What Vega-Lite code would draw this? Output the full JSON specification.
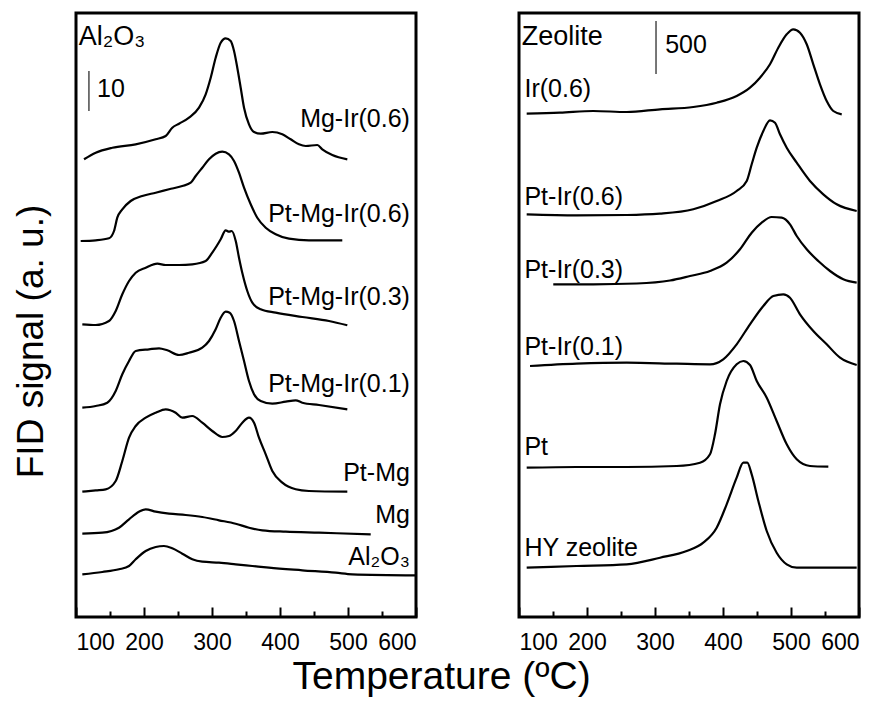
{
  "$schema": "https://vega.github.io/schema/vega-lite/v6.json",
  "background": "white",
  "padding": {"left": 10, "top": 11, "right": 20, "bottom": 8},
  "title": {"text": "Temperature (ºC)", "orient": "bottom", "anchor": "middle", "fontSize": 39, "font": "Liberation Sans", "fontWeight": "normal", "color": "black", "offset": 2, "dx": 5},
  "spacing": 94,
  "datasets": {
    "left": [
      {"s":"Mg-Ir(0.6)","x":111.8,"y":457.7},{"s":"Mg-Ir(0.6)","x":129,"y":464.3},{"s":"Mg-Ir(0.6)","x":153.4,"y":469.3},{"s":"Mg-Ir(0.6)","x":187.8,"y":472.7},{"s":"Mg-Ir(0.6)","x":217.2,"y":477.7},{"s":"Mg-Ir(0.6)","x":231.9,"y":481},{"s":"Mg-Ir(0.6)","x":241.6,"y":489.3},{"s":"Mg-Ir(0.6)","x":251.5,"y":493.3},{"s":"Mg-Ir(0.6)","x":266.2,"y":499.3},{"s":"Mg-Ir(0.6)","x":280.9,"y":509.3},{"s":"Mg-Ir(0.6)","x":290.7,"y":522.7},{"s":"Mg-Ir(0.6)","x":298.1,"y":539.3},{"s":"Mg-Ir(0.6)","x":305.4,"y":559.3},{"s":"Mg-Ir(0.6)","x":312.8,"y":574.3},{"s":"Mg-Ir(0.6)","x":320.1,"y":578.7},{"s":"Mg-Ir(0.6)","x":327.5,"y":576},{"s":"Mg-Ir(0.6)","x":332.4,"y":566},{"s":"Mg-Ir(0.6)","x":337.2,"y":549.3},{"s":"Mg-Ir(0.6)","x":342.2,"y":529.3},{"s":"Mg-Ir(0.6)","x":347.1,"y":509.3},{"s":"Mg-Ir(0.6)","x":354.4,"y":492.7},{"s":"Mg-Ir(0.6)","x":361.8,"y":485},{"s":"Mg-Ir(0.6)","x":371.6,"y":483.3},{"s":"Mg-Ir(0.6)","x":388.7,"y":485},{"s":"Mg-Ir(0.6)","x":403.4,"y":482.7},{"s":"Mg-Ir(0.6)","x":415.7,"y":477.7},{"s":"Mg-Ir(0.6)","x":427.9,"y":472.7},{"s":"Mg-Ir(0.6)","x":437.8,"y":471},{"s":"Mg-Ir(0.6)","x":454.9,"y":472},{"s":"Mg-Ir(0.6)","x":462.2,"y":467.7},{"s":"Mg-Ir(0.6)","x":476.9,"y":462},{"s":"Mg-Ir(0.6)","x":499,"y":457.7},
      {"s":"Pt-Mg-Ir(0.6)","x":106.9,"y":376},{"s":"Pt-Mg-Ir(0.6)","x":129,"y":376.7},{"s":"Pt-Mg-Ir(0.6)","x":148.5,"y":378.7},{"s":"Pt-Mg-Ir(0.6)","x":155.9,"y":386},{"s":"Pt-Mg-Ir(0.6)","x":160.7,"y":399.3},{"s":"Pt-Mg-Ir(0.6)","x":168.1,"y":407.7},{"s":"Pt-Mg-Ir(0.6)","x":180.4,"y":416},{"s":"Pt-Mg-Ir(0.6)","x":197.5,"y":421},{"s":"Pt-Mg-Ir(0.6)","x":217.2,"y":424.3},{"s":"Pt-Mg-Ir(0.6)","x":236.8,"y":427.7},{"s":"Pt-Mg-Ir(0.6)","x":256.3,"y":431},{"s":"Pt-Mg-Ir(0.6)","x":268.7,"y":434.3},{"s":"Pt-Mg-Ir(0.6)","x":276,"y":441},{"s":"Pt-Mg-Ir(0.6)","x":285.7,"y":449.3},{"s":"Pt-Mg-Ir(0.6)","x":295.6,"y":457.7},{"s":"Pt-Mg-Ir(0.6)","x":305.4,"y":463.3},{"s":"Pt-Mg-Ir(0.6)","x":315.1,"y":465.3},{"s":"Pt-Mg-Ir(0.6)","x":325,"y":462.7},{"s":"Pt-Mg-Ir(0.6)","x":332.4,"y":456},{"s":"Pt-Mg-Ir(0.6)","x":339.7,"y":444.3},{"s":"Pt-Mg-Ir(0.6)","x":347.1,"y":429.3},{"s":"Pt-Mg-Ir(0.6)","x":356.9,"y":412.7},{"s":"Pt-Mg-Ir(0.6)","x":366.6,"y":399.3},{"s":"Pt-Mg-Ir(0.6)","x":379,"y":389.3},{"s":"Pt-Mg-Ir(0.6)","x":393.7,"y":382.7},{"s":"Pt-Mg-Ir(0.6)","x":413.2,"y":378.3},{"s":"Pt-Mg-Ir(0.6)","x":442.6,"y":376.7},{"s":"Pt-Mg-Ir(0.6)","x":491.6,"y":376.7},
      {"s":"Pt-Mg-Ir(0.3)","x":109.3,"y":292.7},{"s":"Pt-Mg-Ir(0.3)","x":129,"y":292},{"s":"Pt-Mg-Ir(0.3)","x":148.5,"y":296},{"s":"Pt-Mg-Ir(0.3)","x":158.4,"y":306},{"s":"Pt-Mg-Ir(0.3)","x":168.1,"y":322.7},{"s":"Pt-Mg-Ir(0.3)","x":178,"y":336},{"s":"Pt-Mg-Ir(0.3)","x":187.8,"y":344.3},{"s":"Pt-Mg-Ir(0.3)","x":202.5,"y":349.3},{"s":"Pt-Mg-Ir(0.3)","x":219.6,"y":353.3},{"s":"Pt-Mg-Ir(0.3)","x":231.9,"y":352},{"s":"Pt-Mg-Ir(0.3)","x":251.5,"y":352},{"s":"Pt-Mg-Ir(0.3)","x":271,"y":352.7},{"s":"Pt-Mg-Ir(0.3)","x":290.7,"y":356},{"s":"Pt-Mg-Ir(0.3)","x":300.4,"y":364.3},{"s":"Pt-Mg-Ir(0.3)","x":312.8,"y":377.7},{"s":"Pt-Mg-Ir(0.3)","x":320.1,"y":386.7},{"s":"Pt-Mg-Ir(0.3)","x":325,"y":385.3},{"s":"Pt-Mg-Ir(0.3)","x":329,"y":386},{"s":"Pt-Mg-Ir(0.3)","x":334.9,"y":376},{"s":"Pt-Mg-Ir(0.3)","x":339.7,"y":359.3},{"s":"Pt-Mg-Ir(0.3)","x":344.6,"y":344},{"s":"Pt-Mg-Ir(0.3)","x":351.9,"y":326},{"s":"Pt-Mg-Ir(0.3)","x":359.3,"y":314.3},{"s":"Pt-Mg-Ir(0.3)","x":371.6,"y":307.7},{"s":"Pt-Mg-Ir(0.3)","x":393.7,"y":304.3},{"s":"Pt-Mg-Ir(0.3)","x":432.8,"y":300},{"s":"Pt-Mg-Ir(0.3)","x":472,"y":296},{"s":"Pt-Mg-Ir(0.3)","x":499,"y":291.7},
      {"s":"Pt-Mg-Ir(0.1)","x":109.3,"y":209.3},{"s":"Pt-Mg-Ir(0.1)","x":129,"y":211},{"s":"Pt-Mg-Ir(0.1)","x":146,"y":214.3},{"s":"Pt-Mg-Ir(0.1)","x":158.4,"y":226},{"s":"Pt-Mg-Ir(0.1)","x":168.1,"y":242.7},{"s":"Pt-Mg-Ir(0.1)","x":178,"y":256},{"s":"Pt-Mg-Ir(0.1)","x":187.8,"y":266},{"s":"Pt-Mg-Ir(0.1)","x":207.4,"y":267.7},{"s":"Pt-Mg-Ir(0.1)","x":222.1,"y":268.7},{"s":"Pt-Mg-Ir(0.1)","x":234.3,"y":266.7},{"s":"Pt-Mg-Ir(0.1)","x":251.5,"y":262},{"s":"Pt-Mg-Ir(0.1)","x":266.2,"y":264.3},{"s":"Pt-Mg-Ir(0.1)","x":285.7,"y":269.3},{"s":"Pt-Mg-Ir(0.1)","x":295.6,"y":276},{"s":"Pt-Mg-Ir(0.1)","x":305.4,"y":287.7},{"s":"Pt-Mg-Ir(0.1)","x":312.8,"y":299.3},{"s":"Pt-Mg-Ir(0.1)","x":320.1,"y":305.3},{"s":"Pt-Mg-Ir(0.1)","x":326,"y":304.3},{"s":"Pt-Mg-Ir(0.1)","x":332.4,"y":296},{"s":"Pt-Mg-Ir(0.1)","x":339.7,"y":276},{"s":"Pt-Mg-Ir(0.1)","x":347.1,"y":256},{"s":"Pt-Mg-Ir(0.1)","x":354.4,"y":236},{"s":"Pt-Mg-Ir(0.1)","x":361.8,"y":222.7},{"s":"Pt-Mg-Ir(0.1)","x":371.6,"y":216},{"s":"Pt-Mg-Ir(0.1)","x":388.7,"y":213.3},{"s":"Pt-Mg-Ir(0.1)","x":408.4,"y":215.3},{"s":"Pt-Mg-Ir(0.1)","x":423.1,"y":216.7},{"s":"Pt-Mg-Ir(0.1)","x":432.8,"y":214.3},{"s":"Pt-Mg-Ir(0.1)","x":457.4,"y":212},{"s":"Pt-Mg-Ir(0.1)","x":499,"y":207.7},
      {"s":"Pt-Mg","x":109.3,"y":125.3},{"s":"Pt-Mg","x":129,"y":126.7},{"s":"Pt-Mg","x":143.7,"y":127.7},{"s":"Pt-Mg","x":158.4,"y":136},{"s":"Pt-Mg","x":168.1,"y":156},{"s":"Pt-Mg","x":178,"y":179.3},{"s":"Pt-Mg","x":187.8,"y":191},{"s":"Pt-Mg","x":202.5,"y":199.3},{"s":"Pt-Mg","x":217.2,"y":204.3},{"s":"Pt-Mg","x":231.9,"y":207.7},{"s":"Pt-Mg","x":246.6,"y":204.3},{"s":"Pt-Mg","x":256.3,"y":199.3},{"s":"Pt-Mg","x":271,"y":201},{"s":"Pt-Mg","x":285.7,"y":194.3},{"s":"Pt-Mg","x":300.4,"y":186},{"s":"Pt-Mg","x":315.1,"y":180},{"s":"Pt-Mg","x":325,"y":181},{"s":"Pt-Mg","x":334.8,"y":186},{"s":"Pt-Mg","x":344.6,"y":194.3},{"s":"Pt-Mg","x":354.4,"y":199.3},{"s":"Pt-Mg","x":361.8,"y":194.3},{"s":"Pt-Mg","x":369.1,"y":179.3},{"s":"Pt-Mg","x":379,"y":162.7},{"s":"Pt-Mg","x":388.7,"y":146},{"s":"Pt-Mg","x":403.4,"y":134.3},{"s":"Pt-Mg","x":423.1,"y":127.7},{"s":"Pt-Mg","x":442.6,"y":126},{"s":"Pt-Mg","x":499,"y":125.3},
      {"s":"Mg","x":109.3,"y":83.3},{"s":"Mg","x":138.7,"y":84.3},{"s":"Mg","x":163.2,"y":89.3},{"s":"Mg","x":178,"y":97.7},{"s":"Mg","x":192.6,"y":105.3},{"s":"Mg","x":202.5,"y":107.7},{"s":"Mg","x":217.2,"y":105.3},{"s":"Mg","x":236.8,"y":103.3},{"s":"Mg","x":261.3,"y":102},{"s":"Mg","x":285.7,"y":100},{"s":"Mg","x":310.3,"y":96.7},{"s":"Mg","x":334.8,"y":93.3},{"s":"Mg","x":354.4,"y":89.3},{"s":"Mg","x":374,"y":86.7},{"s":"Mg","x":408.4,"y":85.3},{"s":"Mg","x":457.4,"y":84.3},{"s":"Mg","x":533.4,"y":82.7},
      {"s":"Al2O3","x":109.3,"y":42.7},{"s":"Al2O3","x":138.7,"y":45},{"s":"Al2O3","x":163.2,"y":47.7},{"s":"Al2O3","x":178,"y":51},{"s":"Al2O3","x":187.8,"y":57.7},{"s":"Al2O3","x":202.5,"y":66},{"s":"Al2O3","x":217.2,"y":70},{"s":"Al2O3","x":229.4,"y":71},{"s":"Al2O3","x":241.6,"y":68.7},{"s":"Al2O3","x":256.3,"y":63.3},{"s":"Al2O3","x":271,"y":57.7},{"s":"Al2O3","x":285.7,"y":55.3},{"s":"Al2O3","x":310.3,"y":54.3},{"s":"Al2O3","x":334.8,"y":52.7},{"s":"Al2O3","x":359.3,"y":51},{"s":"Al2O3","x":383.8,"y":49.3},{"s":"Al2O3","x":432.8,"y":46.7},{"s":"Al2O3","x":481.9,"y":44.3},{"s":"Al2O3","x":506.3,"y":42.7},{"s":"Al2O3","x":600,"y":41.7}
    ],
    "right": [
      {"s":"Ir(0.6)","x":111.3,"y":503.3},{"s":"Ir(0.6)","x":160.3,"y":504.3},{"s":"Ir(0.6)","x":209.3,"y":506},{"s":"Ir(0.6)","x":258.4,"y":505},{"s":"Ir(0.6)","x":307.4,"y":507.7},{"s":"Ir(0.6)","x":356.3,"y":510},{"s":"Ir(0.6)","x":390.7,"y":514.3},{"s":"Ir(0.6)","x":420.1,"y":521},{"s":"Ir(0.6)","x":439.7,"y":529.3},{"s":"Ir(0.6)","x":454.4,"y":539.3},{"s":"Ir(0.6)","x":469.1,"y":552.7},{"s":"Ir(0.6)","x":481.3,"y":569.3},{"s":"Ir(0.6)","x":493.7,"y":582.7},{"s":"Ir(0.6)","x":503.4,"y":587.7},{"s":"Ir(0.6)","x":513.2,"y":584.3},{"s":"Ir(0.6)","x":523.1,"y":572.7},{"s":"Ir(0.6)","x":532.8,"y":552.7},{"s":"Ir(0.6)","x":542.6,"y":532.7},{"s":"Ir(0.6)","x":552.5,"y":516},{"s":"Ir(0.6)","x":562.2,"y":506},{"s":"Ir(0.6)","x":574.6,"y":502.7},
      {"s":"Pt-Ir(0.6)","x":111.3,"y":402.7},{"s":"Pt-Ir(0.6)","x":184.9,"y":401.7},{"s":"Pt-Ir(0.6)","x":258.4,"y":402},{"s":"Pt-Ir(0.6)","x":307.4,"y":403.3},{"s":"Pt-Ir(0.6)","x":356.3,"y":407.7},{"s":"Pt-Ir(0.6)","x":390.7,"y":416},{"s":"Pt-Ir(0.6)","x":420.1,"y":426},{"s":"Pt-Ir(0.6)","x":434.9,"y":436},{"s":"Pt-Ir(0.6)","x":442.2,"y":452.7},{"s":"Pt-Ir(0.6)","x":449.6,"y":469.3},{"s":"Pt-Ir(0.6)","x":459.3,"y":486},{"s":"Pt-Ir(0.6)","x":469.1,"y":496.7},{"s":"Pt-Ir(0.6)","x":476.5,"y":494.3},{"s":"Pt-Ir(0.6)","x":483.8,"y":482.7},{"s":"Pt-Ir(0.6)","x":493.7,"y":469.3},{"s":"Pt-Ir(0.6)","x":508.4,"y":454.3},{"s":"Pt-Ir(0.6)","x":527.9,"y":436},{"s":"Pt-Ir(0.6)","x":547.5,"y":422.7},{"s":"Pt-Ir(0.6)","x":567.2,"y":412.7},{"s":"Pt-Ir(0.6)","x":596.6,"y":406},
      {"s":"Pt-Ir(0.3)","x":150.4,"y":332.7},{"s":"Pt-Ir(0.3)","x":209.3,"y":332.7},{"s":"Pt-Ir(0.3)","x":273.1,"y":333.5},{"s":"Pt-Ir(0.3)","x":322.1,"y":336.5},{"s":"Pt-Ir(0.3)","x":351.5,"y":341},{"s":"Pt-Ir(0.3)","x":380.9,"y":346},{"s":"Pt-Ir(0.3)","x":405.4,"y":354.3},{"s":"Pt-Ir(0.3)","x":425,"y":367.7},{"s":"Pt-Ir(0.3)","x":442.2,"y":384.3},{"s":"Pt-Ir(0.3)","x":456.9,"y":394.3},{"s":"Pt-Ir(0.3)","x":471.6,"y":400},{"s":"Pt-Ir(0.3)","x":486.3,"y":399.3},{"s":"Pt-Ir(0.3)","x":498.5,"y":392.7},{"s":"Pt-Ir(0.3)","x":508.4,"y":381},{"s":"Pt-Ir(0.3)","x":523.1,"y":367.7},{"s":"Pt-Ir(0.3)","x":540.1,"y":356},{"s":"Pt-Ir(0.3)","x":557.4,"y":346},{"s":"Pt-Ir(0.3)","x":576.9,"y":337.7},{"s":"Pt-Ir(0.3)","x":596.6,"y":334.3},
      {"s":"Pt-Ir(0.1)","x":116.2,"y":251},{"s":"Pt-Ir(0.1)","x":184.9,"y":253.3},{"s":"Pt-Ir(0.1)","x":258.4,"y":254.3},{"s":"Pt-Ir(0.1)","x":331.9,"y":253.3},{"s":"Pt-Ir(0.1)","x":380.9,"y":252.7},{"s":"Pt-Ir(0.1)","x":400.4,"y":257.7},{"s":"Pt-Ir(0.1)","x":420.1,"y":272.7},{"s":"Pt-Ir(0.1)","x":439.7,"y":292.7},{"s":"Pt-Ir(0.1)","x":459.3,"y":311},{"s":"Pt-Ir(0.1)","x":474,"y":321},{"s":"Pt-Ir(0.1)","x":488.7,"y":322.7},{"s":"Pt-Ir(0.1)","x":498.5,"y":319.3},{"s":"Pt-Ir(0.1)","x":513.2,"y":302.7},{"s":"Pt-Ir(0.1)","x":532.8,"y":286},{"s":"Pt-Ir(0.1)","x":552.5,"y":272.7},{"s":"Pt-Ir(0.1)","x":572.1,"y":259.3},{"s":"Pt-Ir(0.1)","x":596.6,"y":252},
      {"s":"Pt","x":111.3,"y":149.3},{"s":"Pt","x":184.9,"y":150},{"s":"Pt","x":258.4,"y":150},{"s":"Pt","x":331.9,"y":151},{"s":"Pt","x":366.2,"y":154.3},{"s":"Pt","x":380.9,"y":162.7},{"s":"Pt","x":388.2,"y":182.7},{"s":"Pt","x":395.6,"y":212.7},{"s":"Pt","x":405.4,"y":236},{"s":"Pt","x":420.1,"y":252.7},{"s":"Pt","x":429.9,"y":256},{"s":"Pt","x":439.7,"y":252},{"s":"Pt","x":449.6,"y":236},{"s":"Pt","x":464.3,"y":219.3},{"s":"Pt","x":478.9,"y":196},{"s":"Pt","x":493.7,"y":172.7},{"s":"Pt","x":508.4,"y":157.7},{"s":"Pt","x":527.9,"y":151},{"s":"Pt","x":554.9,"y":150.3},
      {"s":"HY zeolite","x":111.3,"y":49.3},{"s":"HY zeolite","x":184.9,"y":51},{"s":"HY zeolite","x":258.4,"y":52.7},{"s":"HY zeolite","x":307.4,"y":59.3},{"s":"HY zeolite","x":346.6,"y":66},{"s":"HY zeolite","x":371,"y":74.3},{"s":"HY zeolite","x":390.7,"y":89.3},{"s":"HY zeolite","x":405.4,"y":112.7},{"s":"HY zeolite","x":420.1,"y":139.3},{"s":"HY zeolite","x":429.9,"y":154.3},{"s":"HY zeolite","x":435.7,"y":154.3},{"s":"HY zeolite","x":442.2,"y":142.7},{"s":"HY zeolite","x":452,"y":116},{"s":"HY zeolite","x":464.3,"y":86},{"s":"HY zeolite","x":478.9,"y":64.3},{"s":"HY zeolite","x":493.7,"y":52.7},{"s":"HY zeolite","x":508.4,"y":49.3},{"s":"HY zeolite","x":596.6,"y":49.3}
    ],
    "leftLabels": [
      {"t":"Mg-Ir(0.6)","x":591,"y":498},
      {"t":"Pt-Mg-Ir(0.6)","x":591,"y":403},
      {"t":"Pt-Mg-Ir(0.3)","x":591,"y":320},
      {"t":"Pt-Mg-Ir(0.1)","x":591,"y":233},
      {"t":"Pt-Mg","x":591,"y":144},
      {"t":"Mg","x":591,"y":102},
      {"t":"Al₂O₃","x":591,"y":60}
    ],
    "rightLabels": [
      {"t":"Ir(0.6)","x":108,"y":528},
      {"t":"Pt-Ir(0.6)","x":108,"y":420},
      {"t":"Pt-Ir(0.3)","x":108,"y":347},
      {"t":"Pt-Ir(0.1)","x":108,"y":270},
      {"t":"Pt","x":108,"y":170},
      {"t":"HY zeolite","x":108,"y":69}
    ],
    "leftTitle": [{"t":"Al₂O₃","x":104,"y":580}],
    "rightTitle": [{"t":"Zeolite","x":104,"y":580}],
    "leftBar": [{"x":119,"y":506,"y2":546,"t":"10","tx":131,"ty":528}],
    "rightBar": [{"x":301.5,"y":543,"y2":596,"t":"500","tx":315,"ty":572}]
  },
  "hconcat": [
    {
      "width": 340,
      "height": 604,
      "resolve": {"axis": {"x": "independent", "y": "independent"}},
      "layer": [
        {
          "data": {"name": "left"},
          "mark": {"type": "line", "color": "black", "strokeWidth": 2.2, "interpolate": "monotone"},
          "encoding": {
            "x": {"field": "x", "type": "quantitative", "scale": {"domain": [100, 600], "nice": false, "zero": false},
                  "axis": {"orient": "bottom", "values": [100, 200, 300, 400, 500, 600], "tickSize": -10, "labelPadding": 24, "title": null}},
            "y": {"field": "y", "type": "quantitative", "scale": {"domain": [0, 604], "nice": false, "zero": false},
                  "axis": {"orient": "left", "title": "FID signal (a. u.)", "labels": false, "ticks": false, "domain": false, "grid": false, "titleFontSize": 37, "titleFont": "Liberation Sans", "titleFontWeight": "normal", "titleColor": "black", "titlePadding": 26, "titleY": 328}},
            "detail": {"field": "s"}
          }
        },
        {
          "data": {"name": "leftBar"},
          "mark": {"type": "rule", "color": "#555555", "strokeWidth": 1.6},
          "encoding": {
            "x": {"field": "x", "type": "quantitative",
                  "axis": {"orient": "bottom", "values": [150, 250, 350, 450, 550], "tickSize": -6, "labels": false, "title": null}},
            "y": {"field": "y", "type": "quantitative", "axis": null},
            "y2": {"field": "y2"}
          }
        },
        {
          "data": {"name": "leftBar"},
          "mark": {"type": "text", "align": "left", "baseline": "middle", "fontSize": 25, "font": "Liberation Sans", "color": "black"},
          "encoding": {
            "x": {"field": "tx", "type": "quantitative", "axis": null},
            "y": {"field": "ty", "type": "quantitative", "axis": null},
            "text": {"field": "t"}
          }
        },
        {
          "data": {"name": "leftLabels"},
          "mark": {"type": "text", "align": "right", "baseline": "middle", "fontSize": 25, "font": "Liberation Sans", "color": "black"},
          "encoding": {
            "x": {"field": "x", "type": "quantitative", "axis": null},
            "y": {"field": "y", "type": "quantitative", "axis": null},
            "text": {"field": "t"}
          }
        },
        {
          "data": {"name": "leftTitle"},
          "mark": {"type": "text", "align": "left", "baseline": "middle", "fontSize": 27, "font": "Liberation Sans", "color": "black"},
          "encoding": {
            "x": {"field": "x", "type": "quantitative", "axis": null},
            "y": {"field": "y", "type": "quantitative", "axis": null},
            "text": {"field": "t"}
          }
        }
      ]
    },
    {
      "width": 340,
      "height": 604,
      "resolve": {"axis": {"x": "independent"}},
      "layer": [
        {
          "data": {"name": "right"},
          "mark": {"type": "line", "color": "black", "strokeWidth": 2.2, "interpolate": "monotone"},
          "encoding": {
            "x": {"field": "x", "type": "quantitative", "scale": {"domain": [100, 600], "nice": false, "zero": false},
                  "axis": {"orient": "bottom", "values": [100, 200, 300, 400, 500, 600], "tickSize": -10, "labelPadding": 24, "title": null}},
            "y": {"field": "y", "type": "quantitative", "scale": {"domain": [0, 604], "nice": false, "zero": false}, "axis": null},
            "detail": {"field": "s"}
          }
        },
        {
          "data": {"name": "rightBar"},
          "mark": {"type": "rule", "color": "#555555", "strokeWidth": 1.6},
          "encoding": {
            "x": {"field": "x", "type": "quantitative",
                  "axis": {"orient": "bottom", "values": [150, 250, 350, 450, 550], "tickSize": -6, "labels": false, "title": null}},
            "y": {"field": "y", "type": "quantitative", "axis": null},
            "y2": {"field": "y2"}
          }
        },
        {
          "data": {"name": "rightBar"},
          "mark": {"type": "text", "align": "left", "baseline": "middle", "fontSize": 25, "font": "Liberation Sans", "color": "black"},
          "encoding": {
            "x": {"field": "tx", "type": "quantitative", "axis": null},
            "y": {"field": "ty", "type": "quantitative", "axis": null},
            "text": {"field": "t"}
          }
        },
        {
          "data": {"name": "rightLabels"},
          "mark": {"type": "text", "align": "left", "baseline": "middle", "fontSize": 25, "font": "Liberation Sans", "color": "black"},
          "encoding": {
            "x": {"field": "x", "type": "quantitative", "axis": null},
            "y": {"field": "y", "type": "quantitative", "axis": null},
            "text": {"field": "t"}
          }
        },
        {
          "data": {"name": "rightTitle"},
          "mark": {"type": "text", "align": "left", "baseline": "middle", "fontSize": 27, "font": "Liberation Sans", "color": "black"},
          "encoding": {
            "x": {"field": "x", "type": "quantitative", "axis": null},
            "y": {"field": "y", "type": "quantitative", "axis": null},
            "text": {"field": "t"}
          }
        }
      ]
    }
  ],
  "config": {
    "view": {"stroke": "black", "strokeWidth": 3},
    "font": "Liberation Sans",
    "axis": {"domain": false, "grid": false, "tickColor": "black", "tickWidth": 2, "labelFont": "Liberation Sans", "labelFontSize": 23, "labelColor": "black"}
  }
}
